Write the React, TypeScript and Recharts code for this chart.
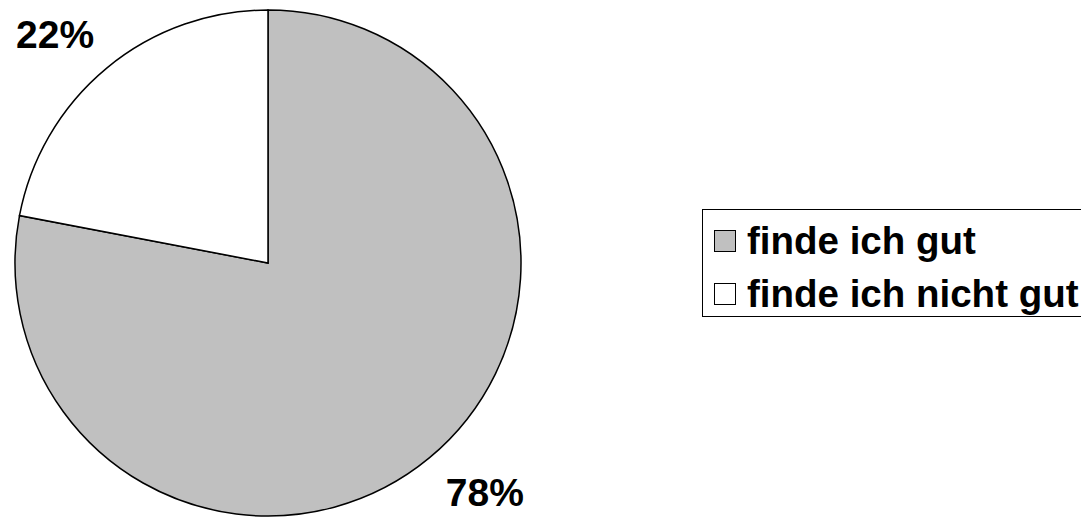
import React from 'react';
import { PieChart, Pie, Cell, Legend } from 'recharts';

const categories = ['finde ich gut', 'finde ich nicht gut'];
const shares = [78, 22];
const colors = ['#c0c0c0', '#ffffff'];

const data = categories.map((name, i) => ({ name, value: shares[i] }));

const FONT = "Arial, 'Liberation Sans', sans-serif";
const RAD = Math.PI / 180;

// Excel style: the label box corner closest to the pie sits on the mid-angle ray
const renderLabel = (props: any) => {
  const { cx, cy, midAngle, value } = props;
  const r = 279;
  const x = cx + r * Math.cos(-midAngle * RAD);
  const y = cy + r * Math.sin(-midAngle * RAD);
  const right = x >= cx;
  const below = y >= cy;
  return (
    <text
      x={right ? x : x + 4}
      y={below ? y + 28 : y}
      textAnchor={right ? 'start' : 'end'}
      fill="#000"
      fontFamily={FONT}
      fontWeight="bold"
      fontSize={39}
    >
      {value}%
    </text>
  );
};

const renderLegend = (props: any) => {
  const payload = props.payload || [];
  return (
    <div
      style={{
        boxSizing: 'border-box',
        height: 108,
        width: 420,
        border: '1.5px solid #000',
        paddingTop: 4,
        paddingLeft: 11,
        fontFamily: FONT,
        fontWeight: 'bold',
        fontSize: 38.5,
        color: '#000',
      }}
    >
      {payload.map((entry: any, i: number) => (
        <div key={i} style={{ height: 53, display: 'flex', alignItems: 'center' }}>
          <span
            style={{
              boxSizing: 'border-box',
              width: 22,
              height: 22,
              background: colors[i],
              border: '1.5px solid #000',
              marginRight: 11,
              flexShrink: 0,
            }}
          />
          <span style={{ whiteSpace: 'nowrap', lineHeight: '53px' }}>{entry.value}</span>
        </div>
      ))}
    </div>
  );
};

export default function App() {
  return (
    <div
      style={{
        position: 'absolute',
        left: 0,
        top: 0,
        width: 1081,
        height: 517,
        overflow: 'hidden',
        background: '#fff',
      }}
    >
      <PieChart width={1081} height={517} margin={{ top: 0, right: 0, bottom: 0, left: 0 }}>
        <Pie
          data={data}
          dataKey="value"
          nameKey="name"
          cx={268}
          cy={263}
          outerRadius={253}
          startAngle={90}
          endAngle={-270}
          stroke="#000"
          strokeWidth={1.5}
          label={renderLabel}
          labelLine={false}
          isAnimationActive={false}
        >
          {data.map((d, i) => (
            <Cell key={d.name} fill={colors[i]} />
          ))}
        </Pie>
        <Legend
          layout="vertical"
          align="center"
          verticalAlign="middle"
          content={renderLegend}
          wrapperStyle={{ position: 'absolute', left: 702, top: 209, width: 420 }}
        />
      </PieChart>
    </div>
  );
}
